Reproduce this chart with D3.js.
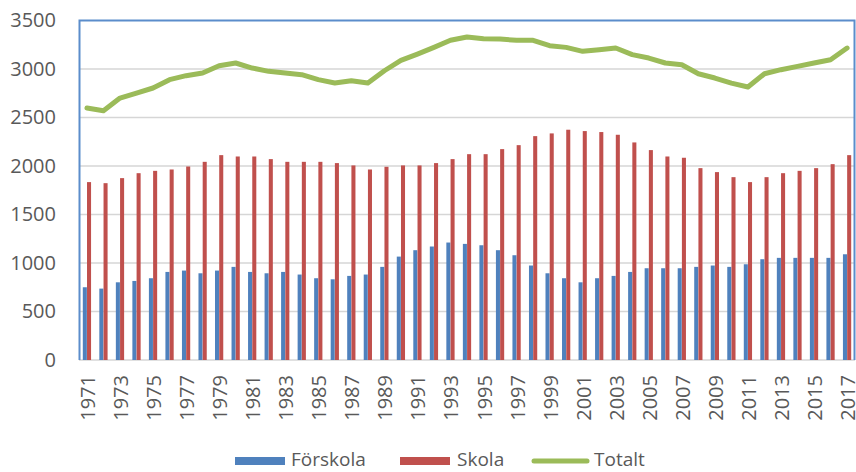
<!DOCTYPE html>
<html>
<head>
<meta charset="utf-8">
<script src="https://cdn.jsdelivr.net/npm/d3@7"></script>
<style>
  html, body { margin: 0; padding: 0; background: #fff; }
  svg { display: block; }
  text { font-family: "Open Sans", "Liberation Sans", sans-serif; fill: #595959; }
</style>
</head>
<body>
<svg id="chart" width="856" height="472"></svg>
<script>
const years = d3.range(1971, 2018).map(String);
const seriesNames = ["Förskola", "Skola", "Totalt"];
const forskola = [750,736,801,815,843,908,922,894,922,960,908,894,908,881,843,
  832,867,881,960,1066,1132,1170,1211,1197,1183,1132,1080,974,894,843,801,
  843,867,908,946,946,946,960,974,960,987,1039,1053,1053,1053,1053,1090];
const skola = [1834,1823,1875,1926,1950,1964,1995,2043,2112,2098,2098,2071,2043,2043,2043,
  2030,2006,1964,1992,2006,2006,2030,2071,2122,2122,2174,2215,2308,2336,2374,2360,
  2350,2322,2243,2164,2098,2085,1978,1937,1885,1834,1885,1926,1950,1978,2019,2112];
const totalt = [2597,2570,2700,2752,2804,2890,2931,2958,3034,3062,3010,2976,2958,2941,2890,
  2855,2879,2855,2982,3089,3154,3223,3296,3330,3313,3309,3296,3296,3240,3223,3182,
  3199,3216,3148,3113,3062,3044,2951,2907,2855,2814,2951,2993,3027,3062,3096,3216];
const yTicks = [0,500,1000,1500,2000,2500,3000,3500];
const colors = { "Förskola": "#4F81BD", "Skola": "#C0504D", "Totalt": "#9BBB59" };

const svg = d3.select("#chart");
const pLeft = 79, pRight = 855, pTop = 20.5, pBottom = 360;
const fs = "20px";

const x = d3.scaleBand().domain(years).range([pLeft, pRight]).paddingInner(0.48).paddingOuter(0.22);
const x1 = d3.scaleBand().domain(["Förskola", "Skola"]).range([0, x.bandwidth()]).padding(0.04);
const y = d3.scaleLinear().domain([0, 3500]).range([pBottom, pTop]);

// gridlines
svg.append("g").selectAll("line").data(yTicks.filter(t => t < 3500)).join("line")
  .attr("x1", pLeft).attr("x2", pRight)
  .attr("y1", d => y(d)).attr("y2", d => y(d))
  .attr("stroke", "#D6D6D6").attr("stroke-width", 1.5);

// y axis labels
const yAxis = d3.axisLeft(y).tickValues(yTicks).tickFormat(d3.format("d")).tickSize(0).tickPadding(0);
const gy = svg.append("g").attr("transform", `translate(56,0)`).call(yAxis);
gy.select(".domain").remove();
gy.selectAll("text").attr("font-size", fs).attr("fill", "#595959")
  .style("font-family", '"Open Sans", sans-serif');

// bars
const barData = years.map((yr, i) => ({ yr, vals: [
  { name: "Förskola", v: forskola[i] }, { name: "Skola", v: skola[i] }] }));
const groups = svg.append("g").selectAll("g").data(barData).join("g")
  .attr("transform", d => `translate(${x(d.yr)},0)`);
groups.selectAll("rect").data(d => d.vals).join("rect")
  .attr("x", d => x1(d.name)).attr("width", x1.bandwidth())
  .attr("y", d => y(d.v)).attr("height", d => y(0) - y(d.v))
  .attr("fill", d => colors[d.name]);

// line
const line = d3.line().x((d, i) => x(years[i]) + x.bandwidth() / 2).y(d => y(d));
svg.append("path").datum(totalt).attr("d", line)
  .attr("fill", "none").attr("stroke", colors["Totalt"]).attr("stroke-width", 5)
  .attr("stroke-linejoin", "round").attr("stroke-linecap", "round");

// plot border (blue)
svg.append("path")
  .attr("d", `M${pLeft + 0.5},${pBottom} L${pLeft + 0.5},${pTop} L${pRight - 0.5},${pTop} L${pRight - 0.5},${pBottom}`)
  .attr("fill", "none").attr("stroke", "#5B8DCB").attr("stroke-width", 2);

// x axis labels
const xAxis = d3.axisBottom(x).tickValues(years.filter((d, i) => i % 2 === 0)).tickSize(0).tickPadding(0);
const gx = svg.append("g").attr("transform", `translate(0,${pBottom})`).call(xAxis);
gx.select(".domain").remove();
gx.selectAll("text")
  .attr("font-size", fs).attr("fill", "#595959")
  .style("font-family", '"Open Sans", sans-serif')
  .attr("text-anchor", "end")
  .attr("dy", null).attr("y", null)
  .attr("transform", "translate(0.5,15) rotate(-90)")
  .attr("dominant-baseline", "central");

// legend
const legend = svg.append("g");
const items = [
  { name: "Förskola", sx: 235, tx: 291, type: "rect" },
  { name: "Skola", sx: 400, tx: 457, type: "rect" },
  { name: "Totalt", sx: 532, tx: 594, type: "line" }
];
items.forEach(it => {
  if (it.type === "rect") {
    legend.append("rect").attr("x", it.sx).attr("y", 457).attr("width", 50).attr("height", 8)
      .attr("fill", colors[it.name]);
  } else {
    legend.append("line").attr("x1", it.sx + 2).attr("x2", it.sx + 55).attr("y1", 461).attr("y2", 461)
      .attr("stroke", colors[it.name]).attr("stroke-width", 5).attr("stroke-linecap", "round");
  }
  legend.append("text").attr("x", it.tx).attr("y", 459).attr("dominant-baseline", "central")
    .attr("font-size", "19px").text(it.name);
});
</script>
</body>
</html>
